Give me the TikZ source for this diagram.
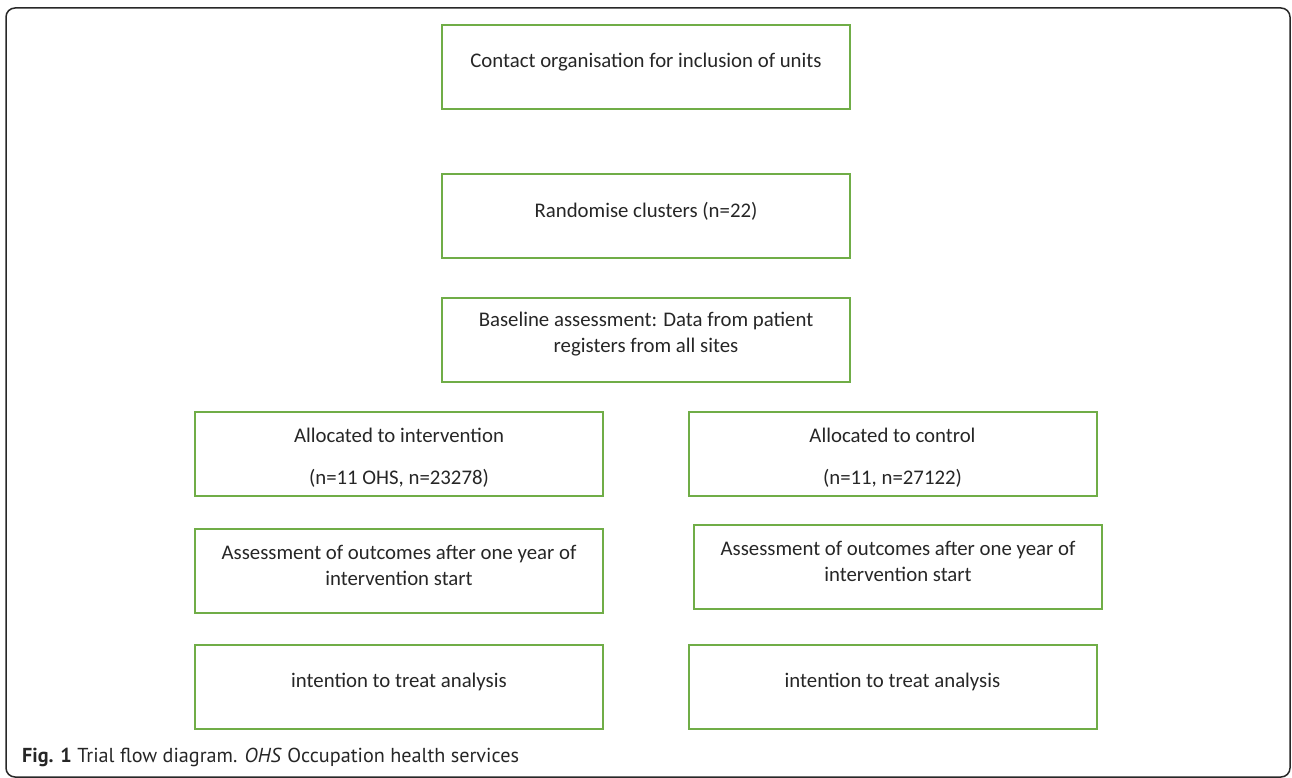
\documentclass[tikz,border=0pt]{standalone}
\usepackage{fontspec}
\setmainfont{Carlito}
\newfontfamily\capfont{PT Sans}
\definecolor{boxgreen}{RGB}{112,173,71}
\definecolor{framegray}{RGB}{40,40,40}
\tikzset{
  flowbox/.style={draw=boxgreen, line width=2pt, minimum width=408pt, minimum height=84pt, inner sep=0pt},
  boxtext/.style={font=\fontsize{20.8}{26.5}\selectfont, align=center, inner sep=0pt, text=black!85},
  captext/.style={font=\capfont\fontsize{20.2}{22}\selectfont, anchor=west, inner sep=0pt, text=black!85}
}
\begin{document}
\begin{tikzpicture}[x=1pt,y=-1pt]
\useasboundingbox (0,0) rectangle (1292,778);
\draw[framegray, line width=1.5pt, rounded corners=9pt] (6,8) rectangle (1290,777);
% boxes
\node[flowbox] (b1) at (646,67.5) {};
\node[flowbox] (b2) at (646,216) {};
\node[flowbox] (b3) at (646,340) {};
\node[flowbox] (b4) at (399,453.5) {};
\node[flowbox] (b5) at (892.5,453.5) {};
\node[flowbox] (b6) at (399,571) {};
\node[flowbox] (b7) at (898,567) {};
\node[flowbox] (b8) at (399,687) {};
\node[flowbox] (b9) at (892.5,687) {};
% texts
\node[boxtext] (t1) at (646,62) {Contact organisation for inclusion of units};
\node[boxtext] (t2) at (646,211) {Randomise clusters (n=22)};
\node[boxtext] (t3) at (646,334) {Baseline assessment: Data from patient\\registers from all sites};
\node[boxtext] (t4a) at (399,435) {Allocated to intervention};
\node[boxtext] (t4b) at (399,478) {(n=11 OHS, n=23278)};
\node[boxtext] (t5a) at (892.5,435) {Allocated to control};
\node[boxtext] (t5b) at (892.5,478) {(n=11, n=27122)};
\node[boxtext] (t6) at (399,565.5) {Assessment of outcomes after one year of\\intervention start};
\node[boxtext] (t7) at (898,561.5) {Assessment of outcomes after one year of\\intervention start};
\node[boxtext] (t8) at (399,682) {intention to treat analysis};
\node[boxtext] (t9) at (892.5,682) {intention to treat analysis};
% caption
\node[captext] (cap) at (22,757) {\textbf{Fig. 1} Trial flow diagram. \textit{OHS} Occupation health services};
\end{tikzpicture}
\end{document}
